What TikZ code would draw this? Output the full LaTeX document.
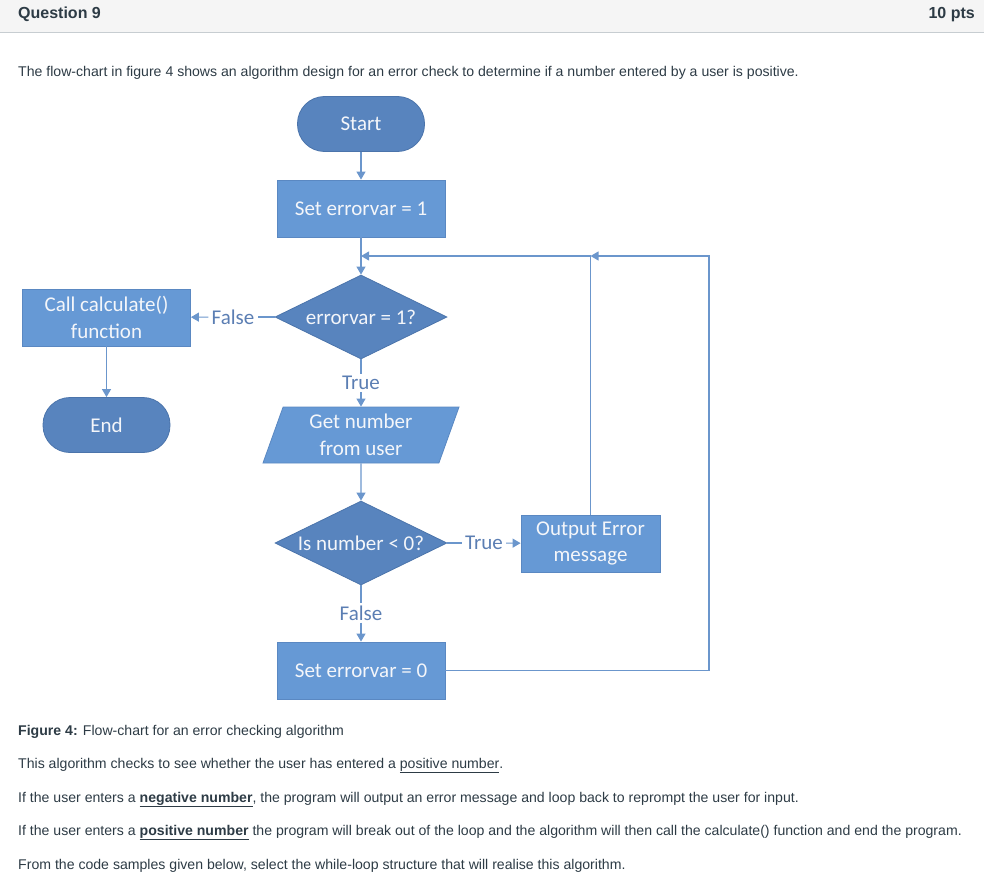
\documentclass[tikz,border=0pt]{standalone}
\usepackage{fontspec}
\setmainfont{Liberation Sans}
\newfontfamily\chartfont{Carlito}
\usetikzlibrary{shapes.geometric,arrows.meta}
\definecolor{inktext}{HTML}{2D3B45}
\definecolor{headgray}{HTML}{F5F5F5}
\definecolor{headrule}{HTML}{C7CDD1}
\definecolor{termblue}{HTML}{5884BE}
\definecolor{termedge}{HTML}{4B74AB}
\definecolor{boxblue}{HTML}{6699D5}
\definecolor{boxedge}{HTML}{5A88C2}
\definecolor{flowline}{HTML}{6B96CC}
\definecolor{lbltext}{HTML}{5B7EB3}
\definecolor{chartink}{HTML}{F4F6FA}

\begin{document}
\begin{tikzpicture}
[x=1pt, y=-1pt, every node/.style={inner sep=0pt},
 chart/.style={font=\chartfont\fontsize{21}{26.5}\selectfont, text=chartink, align=center},
 term/.style={chart, rectangle, rounded corners=27pt, minimum width=127pt, minimum height=55pt, fill=termblue, draw=termedge, line width=0.8pt},
 procbox/.style={chart, rectangle, minimum width=168pt, minimum height=57pt, fill=boxblue, draw=boxedge, line width=0.8pt},
 decide/.style={chart, diamond, aspect=2, minimum width=172pt, minimum height=84pt, fill=termblue, draw=termedge, line width=0.8pt},
 inout/.style={chart, trapezium, trapezium left angle=64, trapezium right angle=116, trapezium stretches body, minimum width=196pt, minimum height=56pt, fill=boxblue, draw=boxedge, line width=0.8pt},
 link/.style={draw=flowline, line width=1.1pt},
 flow/.style={link, -{Triangle[length=8pt, width=9pt]}},
 lbl/.style={font=\chartfont\fontsize{21}{26.5}\selectfont, text=lbltext, inner xsep=3pt, inner ysep=2pt},
 bodytext/.style={anchor=base west, font=\fontsize{14.1}{16}\selectfont, text=inktext},
 headtext/.style={font=\bfseries\fontsize{16}{18}\selectfont, text=inktext}]
\useasboundingbox (0,0) rectangle (984,888);

% header bar
\fill[headgray] (0,0) rectangle (984,32);
\draw[headrule, line width=1.2pt] (0,32.5) -- (984,32.5);
\node (qtitle) [headtext, anchor=base west] at (18,18.5) {Question 9};
\node (qpts) [headtext, anchor=base east] at (975,18.5) {10 pts};

\node (intro) [bodytext] at (18,76.5) {The flow-chart in figure 4 shows an algorithm design for an error check to determine if a number entered by a user is positive.};

% flow-chart shapes
\node (start) [term] at (361,124) {Start};
\node (set1) [procbox] at (361,208.5) {Set errorvar = 1};
\node (dec1) [decide] at (361,317) {errorvar = 1?};
\node (calc) [procbox] at (106.5,317.5) {Call calculate()\\function};
\node (end) [term] at (106.5,425) {End};
\node (getnum) [inout] at (361,435) {Get number\\from user};
\node (dec2) [decide] at (361,543) {Is number < 0?};
\node (outerr) [procbox, minimum width=139pt] at (590.5,543.5) {Output Error\\message};
\node (set0) [procbox] at (361,670.5) {Set errorvar = 0};

% branch labels
\node (nofalse) [lbl] at (233,317) {False};
\node (yestrue) [lbl] at (361,383) {True};
\node (negtrue) [lbl] at (484,543) {True};
\node (posfalse) [lbl] at (361,613) {False};

\coordinate (loopright) at (709,256);
\coordinate (loopjoin) at (590.5,256);
\coordinate (looptop) at (361,256);

% connectors
\draw[flow] (start) -- (set1);
\draw[flow] (set1) -- (dec1);
\draw[link] (dec1) -- (nofalse);
\draw[flow] (nofalse) -- (calc);
\draw[flow] (calc) -- (end);
\draw[link] (dec1) -- (yestrue);
\draw[flow] (yestrue) -- (getnum);
\draw[flow] (getnum) -- (dec2);
\draw[link] (dec2) -- (negtrue);
\draw[flow] (negtrue) -- (outerr);
\draw[link] (dec2) -- (posfalse);
\draw[flow] (posfalse) -- (set0);
\draw[flow] (set0) -| (loopright) -- (loopjoin);
\draw[flow] (outerr) -- (loopjoin) -- (looptop);

% text below the chart
\node (caption) [bodytext] at (18,735) {\textbf{Figure 4:} Flow-chart for an error checking algorithm};
\node (para1) [bodytext] at (18,768) {This algorithm checks to see whether the user has entered a \underline{positive number}.};
\node (para2) [bodytext] at (18,802) {If the user enters a \textbf{\underline{negative number}}, the program will output an error message and loop back to reprompt the user for input.};
\node (para3) [bodytext] at (18,835) {If the user enters a \textbf{\underline{positive number}} the program will break out of the loop and the algorithm will then call the calculate() function and end the program.};
\node (para4) [bodytext] at (18,869) {From the code samples given below, select the while-loop structure that will realise this algorithm.};
\end{tikzpicture}
\end{document}
